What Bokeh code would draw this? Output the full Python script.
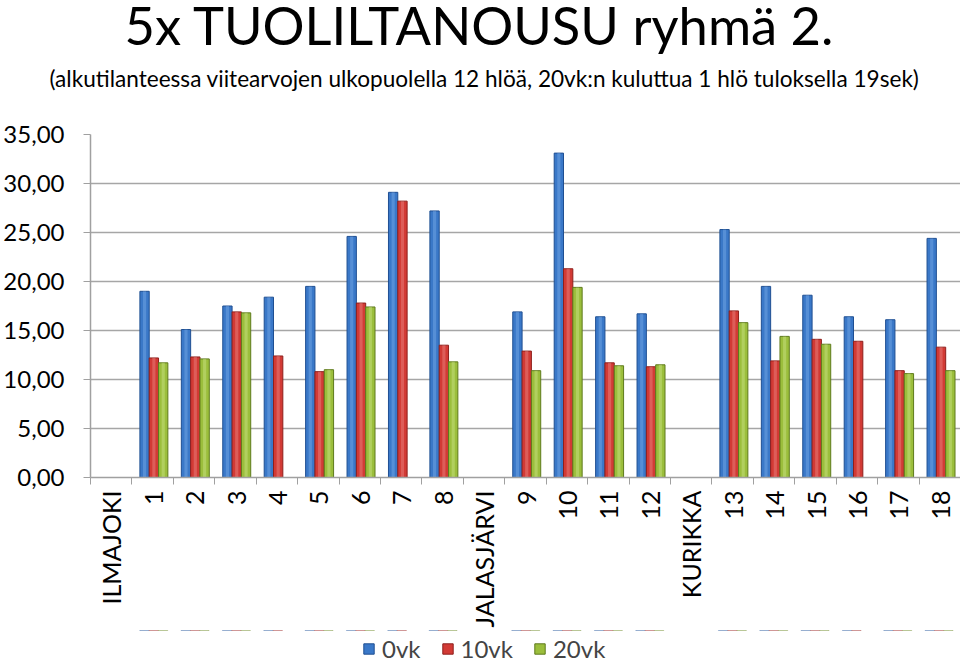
from bokeh.plotting import figure
from bokeh.layouts import column
from bokeh.models import (Range1d, FixedTicker, CustomJSTickFormatter, Title,
                          Legend, LegendItem, ColumnDataSource, BoxAnnotation)
from bokeh.embed import file_html
from bokeh.resources import INLINE
import math

# ---------------- data ----------------
categories = ["ILMAJOKI", "1", "2", "3", "4", "5", "6", "7", "8", "JALASJÄRVI",
              "9", "10", "11", "12", "KURIKKA", "13", "14", "15", "16", "17", "18"]
vk0 = [None, 19.0, 15.1, 17.5, 18.4, 19.5, 24.6, 29.1, 27.2, None,
       16.9, 33.1, 16.4, 16.7, None, 25.3, 19.5, 18.6, 16.4, 16.1, 24.4]
vk10 = [None, 12.2, 12.3, 16.9, 12.4, 10.8, 17.8, 28.2, 13.5, None,
        12.9, 21.3, 11.7, 11.3, None, 17.0, 11.9, 14.1, 13.9, 10.9, 13.3]
vk20 = [None, 11.7, 12.1, 16.8, None, 11.0, 17.4, None, 11.8, None,
        10.9, 19.4, 11.4, 11.5, None, 15.8, 14.4, 13.6, None, 10.6, 10.9]
series_names = ["0vk", "10vk", "20vk"]
y_ticks = [0, 5, 10, 15, 20, 25, 30, 35]

TITLE = "5x TUOLILTANOUSU ryhmä 2."
SUBTITLE = "(alkutilanteessa viitearvojen ulkopuolella 12 hlöä, 20vk:n kuluttua 1 hlö tuloksella 19sek)"

FONT = "Lato"
styles = [
    dict(dark="#1F4F92", mid="#3A78C8", light="#7AAAE6"),
    dict(dark="#8E1F1C", mid="#D23A35", light="#EC8A86"),
    dict(dark="#5E7A1C", mid="#9BBE3C", light="#CDE58A"),
]
width = 0.225
shift = 0.03


def bare(fig):
    fig.axis.visible = False
    fig.grid.visible = False
    fig.outline_line_color = None
    fig.background_fill_color = "white"
    fig.border_fill_color = "white"
    fig.title.visible = False
    return fig


def series_source(k, vals):
    xs, tops = [], []
    for i, v in enumerate(vals):
        if v is None:
            continue
        xs.append(i + 0.5 + (k - 1) * width + shift)
        tops.append(v)
    return ColumnDataSource(dict(x=xs, top=tops))


# ---------------- header: two titles stacked above an empty spacer frame ----------------
head = bare(figure(width=960, height=120, output_backend="svg", toolbar_location=None,
                   x_range=Range1d(0, 1), y_range=Range1d(0, 1),
                   min_border_left=88, min_border_right=2, min_border_top=0, min_border_bottom=0))

main_title = Title(text=TITLE, align="left", text_font=FONT, text_font_size="52.5px",
                   text_font_style="normal", text_color="#000000", standoff=0)
sub_title = Title(text=SUBTITLE, align="left", text_font=FONT, text_font_size="22.6px",
                  text_font_style="normal", text_color="#000000", standoff=0)
try:
    main_title.standoff = -20
    sub_title.standoff = 34
except Exception:
    main_title.standoff = 0
    sub_title.standoff = 0
try:
    main_title.offset = 34
    sub_title.offset = -41
except Exception:
    main_title.align = "center"
    sub_title.align = "center"
head.add_layout(sub_title, "above")
head.add_layout(main_title, "above")

# ---------------- main chart ----------------
p = figure(frame_width=870, frame_height=343, output_backend="svg", toolbar_location=None,
           x_range=Range1d(0, len(categories)), y_range=Range1d(0, 35),
           min_border_left=88, min_border_right=2, min_border_top=14, min_border_bottom=149)
p.outline_line_color = None
p.background_fill_color = "white"
p.border_fill_color = "white"
p.title.visible = False

for k, (vals, st) in enumerate(zip([vk0, vk10, vk20], styles)):
    src = series_source(k, vals)
    p.vbar(x="x", top="top", width=width, bottom=0, source=src,
           fill_color=st["mid"], line_color=st["dark"], line_width=1)
    p.vbar(x="x", top="top", width=width * 0.34, bottom=0, source=src,
           fill_color=st["light"], fill_alpha=0.45, line_color=None)

p.yaxis.ticker = FixedTicker(ticks=y_ticks)
p.yaxis.formatter = CustomJSTickFormatter(code="return tick.toFixed(2).replace('.', ',');")
p.yaxis.major_label_text_font = FONT
p.yaxis.major_label_text_font_size = "24px"
p.yaxis.major_label_text_color = "#000000"
p.yaxis.axis_line_color = "#A0A0A0"
p.yaxis.axis_line_width = 1.5
p.yaxis.major_tick_line_color = "#A0A0A0"
p.yaxis.major_tick_out = 7
p.yaxis.major_tick_in = 0
p.yaxis.minor_tick_line_color = None
p.yaxis.major_label_standoff = 19

p.ygrid.grid_line_color = "#A6A6A6"
p.ygrid.grid_line_width = 1.5
p.xgrid.grid_line_color = None

centers = [i + 0.5 for i in range(len(categories))]
p.xaxis.ticker = FixedTicker(ticks=centers, minor_ticks=list(range(len(categories) + 1)))
p.xaxis.formatter = CustomJSTickFormatter(args=dict(labels=categories),
                                          code="return labels[Math.floor(tick)];")
p.xaxis.major_label_orientation = math.pi / 2
p.xaxis.major_label_text_font = FONT
p.xaxis.major_label_text_font_size = "25px"
p.xaxis.major_label_text_color = "#000000"
p.xaxis.major_tick_line_color = None
p.xaxis.minor_tick_line_color = "#A0A0A0"
p.xaxis.minor_tick_out = 7
p.xaxis.minor_tick_in = 0
p.xaxis.axis_line_color = "#A0A0A0"
p.xaxis.axis_line_width = 1.5
p.xaxis.major_label_standoff = 6

# ---------------- legend strip (series renderers lie outside this strip's view) ----------------
leg = bare(figure(width=960, height=40, output_backend="svg", toolbar_location=None,
                  x_range=Range1d(0, len(categories)), y_range=Range1d(-2, -1),
                  min_border_left=88, min_border_right=2, min_border_top=0, min_border_bottom=0))
items = []
for k, (vals, name, st) in enumerate(zip([vk0, vk10, vk20], series_names, styles)):
    r = leg.vbar(x="x", top="top", width=width, bottom=0, source=series_source(k, vals),
                 fill_color=st["mid"], line_color=st["dark"])
    items.append(LegendItem(label=name, renderers=[r]))
# white cover over the strip's frame, drawn beneath the legend
leg.add_layout(BoxAnnotation(left=0, right=len(categories), bottom=-2, top=-1,
                             fill_color="white", fill_alpha=1.0, line_color=None))
legend = Legend(items=items, orientation="horizontal", location=(272, 7),
                label_text_font=FONT, label_text_font_size="24px",
                glyph_width=13, glyph_height=13, spacing=20, label_standoff=7,
                border_line_color=None, background_fill_alpha=0, margin=0, padding=4)
leg.add_layout(legend, "center")

layout = column(head, p, leg, spacing=0)
open("out.html", "w").write(file_html(layout, INLINE))
